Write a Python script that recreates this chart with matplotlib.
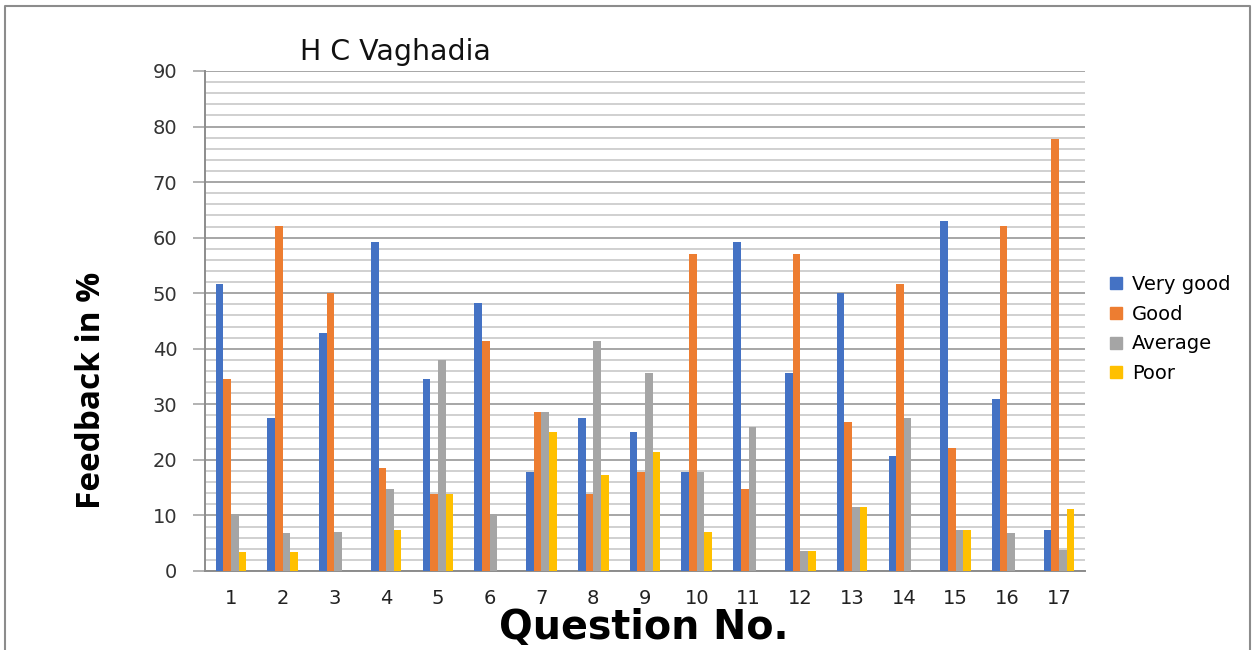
import matplotlib.pyplot as plt
import numpy as np
from matplotlib.lines import Line2D
from matplotlib.ticker import MultipleLocator

plt.rcParams['font.family'] = ['DejaVu Sans']

questions = [str(q) for q in range(1, 18)]
series_names = ['Very good', 'Good', 'Average', 'Poor']
very_good = [51.7, 27.6, 42.9, 59.3, 34.5, 48.3, 17.9, 27.6, 25.0, 17.9, 59.3, 35.7, 50.0, 20.7, 63.0, 31.0, 7.4]
good = [34.5, 62.1, 50.0, 18.5, 13.8, 41.4, 28.6, 13.8, 17.9, 57.1, 14.8, 57.1, 26.9, 51.7, 22.2, 62.1, 77.8]
average = [10.3, 6.9, 7.1, 14.8, 37.9, 10.3, 28.6, 41.4, 35.7, 17.9, 25.9, 3.6, 11.5, 27.6, 7.4, 6.9, 3.7]
poor = [3.4, 3.4, 0, 7.4, 13.8, 0, 25.0, 17.2, 21.4, 7.1, 0, 3.6, 11.5, 0, 7.4, 0, 11.1]
colors = ['#4472C4', '#ED7D31', '#A5A5A5', '#FFC000']

fig = plt.figure(figsize=(12.53, 6.5), dpi=100)
ax = fig.add_axes([205/1253, 1-571/650, 880/1253, 500/650])

x = np.arange(1, 18)
w = 0.148
for i, (vals, name, c) in enumerate(zip([very_good, good, average, poor], series_names, colors)):
    ax.bar(x + (i - 1.5)*w, vals, width=w, color=c, label=name, zorder=3)

ax.set_xlim(0.5, 17.5)
ax.set_ylim(0, 90)
ax.yaxis.set_major_locator(MultipleLocator(10))
ax.yaxis.set_minor_locator(MultipleLocator(2))
ax.grid(which='major', axis='y', color='#a6a6a6', lw=1.4, zorder=0)
ax.grid(which='minor', axis='y', color='#d0d0d0', lw=1.4, zorder=0)
ax.set_xticks(x)
ax.set_xticklabels(questions)
ax.tick_params(axis='x', length=0, labelsize=14, pad=13, colors='#222222')
ax.tick_params(axis='y', which='major', length=9, width=1.2, color='#a6a6a6', labelsize=14, pad=11, labelcolor='#333333')
ax.tick_params(axis='y', which='minor', length=0)
for s in ['top', 'right']:
    ax.spines[s].set_visible(False)
for s in ['left', 'bottom']:
    ax.spines[s].set_color('#8c8c8c')
    ax.spines[s].set_linewidth(1.4)

fig.text(300/1253, 1-52/650, 'H C Vaghadia', fontsize=20.5, va='center', ha='left', color='#111111')
fig.text(92/1253, 1-390/650, 'Feedback in %', fontsize=24, fontweight='bold', rotation=90, ha='center', va='center',
         family='Open Sans')
fig.text(644/1253, 1-628/650, 'Question No.', fontsize=28.5, fontweight='bold', ha='center', va='center')

handles = [Line2D([], [], marker='s', ls='', markersize=9, color=c) for c in colors]
fig.legend(handles, series_names, loc='center left', bbox_to_anchor=(1089/1253, 1-329/650),
           frameon=False, fontsize=14, handletextpad=0.3, labelspacing=0.55, handlelength=1)

# border around the figure (bottom edge is cut off in the reference)
fig.add_artist(Line2D([5/1253, 5/1253, 1250/1253, 1250/1253], [0, 1-6/650, 1-6/650, 0],
                      transform=fig.transFigure, color='#8c8c8c', lw=1.5))

fig.savefig('out.png', dpi=100)
